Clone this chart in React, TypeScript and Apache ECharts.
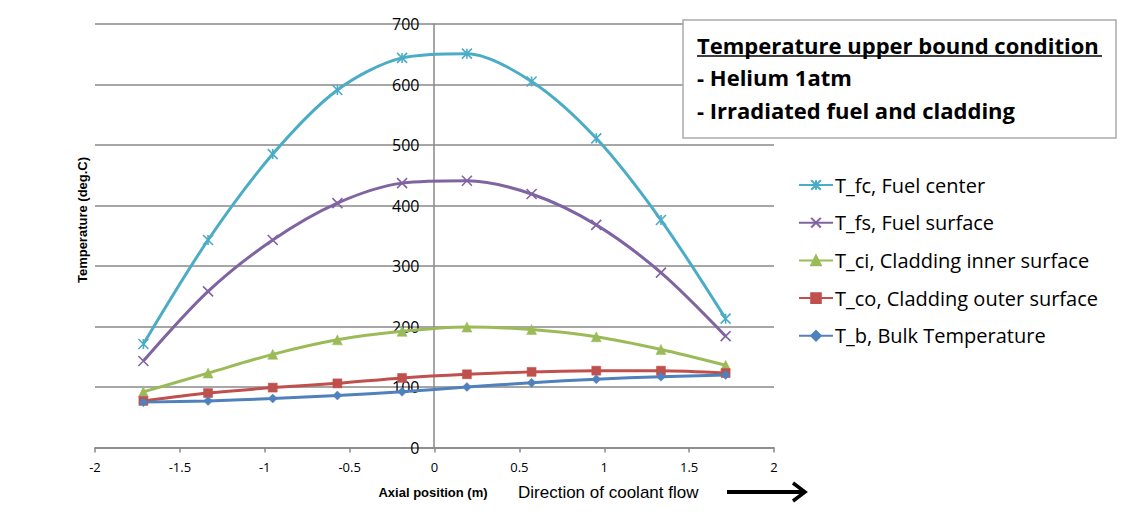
import React, { useEffect, useRef } from "react";
import * as echarts from "echarts";

const positions = [-1.715, -1.334, -0.953, -0.572, -0.191, 0.191, 0.572, 0.953, 1.334, 1.715];
const seriesNames = [
  "T_fc, Fuel center",
  "T_fs, Fuel surface",
  "T_ci, Cladding inner surface",
  "T_co, Cladding outer surface",
  "T_b, Bulk Temperature",
];
const tFc = [171, 343, 485, 591, 644, 651, 605, 511, 376, 213];
const tFs = [143, 258, 343, 404, 437, 441, 419, 368, 289, 184];
const tCi = [92, 123, 154, 178, 192, 199, 195, 183, 162, 136];
const tCo = [77, 90, 99, 106, 115, 121, 125, 127, 127, 123];
const tB = [75, 77, 81, 86, 92, 100, 107, 113, 117, 120];
const colors = ["#4BACC6", "#8064A2", "#9BBB59", "#C0504D", "#4F81BD"];
const symbols = [
  "path://M0,0L10,10M10,0L0,10M5,0L5,10",
  "path://M0,0L10,10M10,0L0,10",
  "triangle",
  "rect",
  "diamond",
];
const symbolSizes = [10, 10, 10, 9, 9];

export default function App() {
  const ref = useRef<HTMLDivElement>(null);
  useEffect(() => {
    document.body.style.margin = "0";
    const chart = echarts.init(ref.current!, null, { renderer: "svg" });
    const allData = [tFc, tFs, tCi, tCo, tB];
    const series = allData.map((vals, i) => ({
      name: seriesNames[i],
      type: "line",
      data: positions.map((x, j) => [x, vals[j]]),
      smooth: 0.3,
      color: colors[i],
      symbol: symbols[i],
      symbolSize: symbolSizes[i],
      lineStyle: { width: 3, color: colors[i] },
      itemStyle: { color: colors[i], borderColor: colors[i], borderWidth: i < 2 ? 1.6 : 0.5 },
    }));
    const font = "'Open Sans', sans-serif";
    chart.setOption({
      animation: false,
      backgroundColor: "#ffffff",
      grid: { left: 95, right: 360, top: 24, bottom: 64.5 },
      xAxis: {
        type: "value",
        min: -2,
        max: 2,
        interval: 0.5,
        axisLine: { lineStyle: { color: "#888", width: 1.5 } },
        axisTick: { show: true, length: 5, lineStyle: { color: "#888", width: 1.5 } },
        axisLabel: { color: "#000", fontSize: 13, margin: 13, fontFamily: font },
        splitLine: { show: false },
      },
      yAxis: {
        type: "value",
        min: 0,
        max: 700,
        interval: 100,
        offset: -338.5,
        axisLine: { show: true, onZero: false, lineStyle: { color: "#888", width: 1.5 } },
        axisTick: { show: false },
        axisLabel: { color: "#000", fontSize: 16, margin: 14, fontFamily: font },
        splitLine: { show: true, lineStyle: { color: "#888", width: 1.5 } },
      },
      legend: {
        orient: "vertical",
        left: 793,
        top: 170,
        itemWidth: 34,
        itemHeight: 12,
        itemGap: 17.7,
        textStyle: { color: "#000", fontSize: 20, fontFamily: font, lineHeight: 20, padding: [0, 0, 0, -3] },
        data: seriesNames,
      },
      graphic: [
        {
          type: "rect",
          shape: { x: 683, y: 20, width: 433, height: 118 },
          style: { fill: "#fff", stroke: "#aaa", lineWidth: 1.5 },
          z: 100,
        },
        {
          type: "text",
          x: 697,
          y: 45,
          style: {
            text: "Temperature upper bound condition",
            font: "bold 22px 'Open Sans', sans-serif",
            fill: "#000",
            textVerticalAlign: "middle",
          },
          z: 101,
        },
        {
          type: "line",
          shape: { x1: 697, y1: 56, x2: 1102, y2: 56 },
          style: { stroke: "#000", lineWidth: 1.5 },
          z: 101,
        },
        {
          type: "text",
          x: 697,
          y: 77,
          style: {
            text: "- Helium 1atm",
            font: "bold 22px 'Open Sans', sans-serif",
            fill: "#000",
            textVerticalAlign: "middle",
          },
          z: 101,
        },
        {
          type: "text",
          x: 697,
          y: 110,
          style: {
            text: "- Irradiated fuel and cladding",
            font: "bold 22px 'Open Sans', sans-serif",
            fill: "#000",
            textVerticalAlign: "middle",
          },
          z: 101,
        },
        {
          type: "text",
          x: 82,
          y: 220,
          rotation: Math.PI / 2,
          style: {
            text: "Temperature (deg.C)",
            font: "bold 13px 'Liberation Sans', sans-serif",
            fill: "#000",
            textAlign: "center",
            textVerticalAlign: "middle",
          },
        },
        {
          type: "text",
          x: 433,
          y: 492,
          style: {
            text: "Axial position (m)",
            font: "bold 13px 'Liberation Sans', sans-serif",
            fill: "#000",
            textAlign: "center",
            textVerticalAlign: "middle",
          },
        },
        {
          type: "text",
          x: 518,
          y: 492,
          style: {
            text: "Direction of coolant flow",
            font: "17px 'Liberation Sans', sans-serif",
            fill: "#000",
            textVerticalAlign: "middle",
          },
        },
        {
          type: "line",
          shape: { x1: 727, y1: 492, x2: 803, y2: 492 },
          style: { stroke: "#000", lineWidth: 4 },
        },
        {
          type: "polyline",
          shape: { points: [[793, 483], [805, 492], [793, 501]] },
          style: { stroke: "#000", lineWidth: 3.5, fill: "none" },
        },
      ],
      series,
    });
    return () => chart.dispose();
  }, []);
  return <div ref={ref} style={{ width: 1134, height: 512 }} />;
}
